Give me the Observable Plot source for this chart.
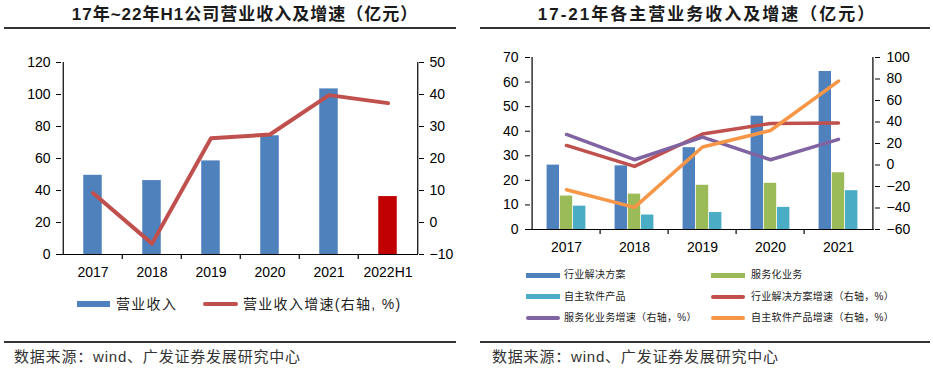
<!DOCTYPE html>
<html><head><meta charset="utf-8">
<script src="https://cdn.jsdelivr.net/npm/d3@7"></script>
<script src="https://cdn.jsdelivr.net/npm/@observablehq/plot@0.6"></script>
<style>
body{margin:0;background:#fff;}
#page{position:relative;width:933px;height:369px;overflow:hidden;font-family:"Liberation Sans","Noto Sans CJK SC",sans-serif;color:#000;}
.abs{position:absolute;}
.title{font-weight:bold;font-size:17px;line-height:20px;text-align:center;color:#1a1a1a;white-space:nowrap;font-family:"Liberation Sans","Noto Sans CJK SC",sans-serif;}
.rule{background:#333;}
.src{font-size:15px;line-height:18px;color:#333;white-space:nowrap;letter-spacing:0.8px;}
.lg{white-space:nowrap;color:#222;}
.lg1{font-size:14px;line-height:16px;letter-spacing:1.3px;}
.lg2{font-size:10px;line-height:12px;letter-spacing:0.3px;}
.sw{position:absolute;}
</style></head>
<body><div id="page">
<div class="abs title" style="left:0;top:5px;width:490px;letter-spacing:1px;">17年~22年H1公司营业收入及增速（亿元）</div>
<div class="abs title" style="left:470px;top:5px;width:474px;letter-spacing:2px;">17-21年各主营业务收入及增速（亿元）</div>
<div class="abs rule" style="left:4px;top:27px;width:452px;height:2px;"></div>
<div class="abs rule" style="left:480px;top:27px;width:450px;height:2px;"></div>
<div id="c1" class="abs" style="left:0;top:45px;"></div>
<div id="c2" class="abs" style="left:470px;top:40px;"></div>
<div id="lg1"></div>
<div id="lg2"></div>
<div class="abs rule" style="left:4px;top:341px;width:452px;height:1.5px;"></div>
<div class="abs rule" style="left:480px;top:341px;width:450px;height:1.5px;"></div>
<div class="abs src" style="left:14px;top:348px;">数据来源：wind、广发证券发展研究中心</div>
<div class="abs src" style="left:492px;top:348px;">数据来源：wind、广发证券发展研究中心</div>
</div>
<script>
// ---- Left chart data ----
const years = ["2017","2018","2019","2020","2021","2022H1"];
const revenue = [49.5, 46.2, 58.5, 74.2, 103.5, 36.2];
const revenueGrowth = [9.2, -6.6, 26.3, 27.5, 39.8, 37.3];
const leftTicks1 = [0, 20, 40, 60, 80, 100, 120];
const rightTicks1 = [-10, 0, 10, 20, 30, 40, 50];
const legend1 = ["营业收入", "营业收入增速(右轴, %)"];

// ---- Right chart data ----
const years2 = ["2017","2018","2019","2020","2021"];
const solutions = [26.2, 25.9, 33.3, 46.1, 64.3];
const services = [13.6, 14.4, 18.0, 18.8, 23.1];
const software = [9.5, 5.9, 6.9, 9.0, 15.8];
const solutionsGrowth = [18.2, -1.3, 28.8, 38.6, 39.0];
const servicesGrowth = [28.4, 4.9, 26.0, 4.9, 23.8];
const softwareGrowth = [-23.0, -39.4, 16.7, 32.1, 78.0];
const leftTicks2 = [0, 10, 20, 30, 40, 50, 60, 70];
const rightTicks2 = [-60, -40, -20, 0, 20, 40, 60, 80, 100];
const legend2 = ["行业解决方案", "服务化业务", "自主软件产品", "行业解决方案增速（右轴，%）", "服务化业务增速（右轴，%）", "自主软件产品增速（右轴，%）"];

const fmt = d => d < 0 ? "\u2212" + Math.abs(d) : String(d);
const style = {fontSize: "14px", fontFamily: '"Liberation Sans", Arial, sans-serif', color: "#000", background: "transparent", overflow: "visible"};

// ---- Left chart ----
{
  const W = 470, H = 235, ml = 61, mr = 52, mt = 17, mb = 26;
  const bw = (W - ml - mr) / years.length;
  const barW = 19;
  const lo = rightTicks1[0], hi = rightTicks1[rightTicks1.length - 1];
  const lmax = leftTicks1[leftTicks1.length - 1];
  const toL = v => (v - lo) / (hi - lo) * lmax;
  const fromL = y => Math.round(y / lmax * (hi - lo) + lo);
  const data = years.map((y, i) => ({year: y, rev: revenue[i], g: revenueGrowth[i]}));
  const chart = Plot.plot({
    width: W, height: H, marginLeft: ml, marginRight: mr, marginTop: mt, marginBottom: mb,
    style,
    x: {domain: years, padding: 0, label: null},
    y: {domain: [0, lmax], label: null},
    marks: [
      Plot.barY(data, {x: "year", y: "rev", fill: d => d.year.endsWith("H1") ? "#C00000" : "#4F81BD",
        insetLeft: (bw - barW) / 2, insetRight: (bw - barW) / 2}),
      Plot.line(data, {x: "year", y: d => toL(d.g), stroke: "#C0504D", strokeWidth: 4}),
      Plot.ruleY([0], {stroke: "#000", strokeWidth: 1.2}),
      Plot.ruleX([years[0]], {dx: -bw / 2, stroke: "#000", strokeWidth: 1.2}),
      Plot.ruleX([years[years.length - 1]], {dx: bw / 2, stroke: "#000", strokeWidth: 1.2}),
      Plot.ruleX(years.slice(1), {x: d => d, y1: 0, y2: 0, dx: -bw / 2, insetBottom: -5, stroke: "#000", strokeWidth: 1.2}),
      Plot.axisX({tickSize: 0, tickPadding: 13, label: null}),
      Plot.axisY(leftTicks1, {anchor: "left", tickSize: 5, tickPadding: 6, label: null}),
      Plot.axisY(rightTicks1.map(toL), {anchor: "right", tickSize: 5, tickPadding: 6, label: null, tickFormat: d => fmt(fromL(d))})
    ]
  });
  document.getElementById("c1").appendChild(chart);
}

// ---- Right chart ----
{
  const W = 463, H = 215, ml = 60, mr = 59, mt = 17, mb = 26;
  const n = years2.length;
  const bw = (W - ml - mr) / n;
  const barW = 13.2;
  const lo = rightTicks2[0], hi = rightTicks2[rightTicks2.length - 1];
  const lmax = leftTicks2[leftTicks2.length - 1];
  const toL = v => (v - lo) / (hi - lo) * lmax;
  const fromL = y => Math.round(y / lmax * (hi - lo) + lo);
  const data = years2.map((y, i) => ({year: y, a: solutions[i], b: services[i], c: software[i],
    ga: solutionsGrowth[i], gb: servicesGrowth[i], gc: softwareGrowth[i]}));
  const side = (bw - 3 * barW) / 2;
  const bar = (key, k, color) => Plot.barY(data, {x: "year", y: key, fill: color,
    insetLeft: side + k * barW, insetRight: side + (2 - k) * barW});
  const chart = Plot.plot({
    width: W, height: H, marginLeft: ml, marginRight: mr, marginTop: mt, marginBottom: mb,
    style,
    x: {domain: years2, padding: 0, label: null},
    y: {domain: [0, lmax], label: null},
    marks: [
      bar("a", 0, "#4F81BD"),
      bar("b", 1, "#9BBB59"),
      bar("c", 2, "#4BACC6"),
      Plot.line(data, {x: "year", y: d => toL(d.ga), stroke: "#C0504D", strokeWidth: 3.5}),
      Plot.line(data, {x: "year", y: d => toL(d.gb), stroke: "#8064A2", strokeWidth: 3.5}),
      Plot.line(data, {x: "year", y: d => toL(d.gc), stroke: "#F79646", strokeWidth: 3.5}),
      Plot.ruleY([0], {stroke: "#000", strokeWidth: 1.2}),
      Plot.ruleX([years2[0]], {dx: -bw / 2, stroke: "#000", strokeWidth: 1.2}),
      Plot.ruleX([years2[n - 1]], {dx: bw / 2, stroke: "#000", strokeWidth: 1.2}),
      Plot.ruleX(years2.slice(1), {x: d => d, y1: 0, y2: 0, dx: -bw / 2, insetBottom: -5, stroke: "#000", strokeWidth: 1.2}),
      Plot.axisX({tickSize: 0, tickPadding: 13, label: null}),
      Plot.axisY(leftTicks2, {anchor: "left", tickSize: 5, tickPadding: 7, label: null}),
      Plot.axisY(rightTicks2.map(toL), {anchor: "right", tickSize: 5, tickPadding: 7, label: null, tickFormat: d => fmt(fromL(d))})
    ]
  });
  document.getElementById("c2").appendChild(chart);
}

// ---- Legends ----
{
  const page = document.getElementById("lg1");
  const items = [
    {label: legend1[0], color: "#4F81BD", sx: 77, sw: 33, sh: 6, tx: 116, round: false},
    {label: legend1[1], color: "#C0504D", sx: 203, sw: 35, sh: 4, tx: 243, round: true}
  ];
  const cy = 304;
  for (const it of items) {
    const s = document.createElement("div");
    s.className = "sw";
    Object.assign(s.style, {left: it.sx + "px", top: (cy - it.sh / 2) + "px", width: it.sw + "px", height: it.sh + "px", background: it.color, borderRadius: it.round ? "2px" : "0"});
    page.appendChild(s);
    const t = document.createElement("div");
    t.className = "abs lg lg1";
    Object.assign(t.style, {left: it.tx + "px", top: (cy - 8) + "px"});
    t.textContent = it.label;
    page.appendChild(t);
  }
}
{
  const page = document.getElementById("lg2");
  const colors = ["#4F81BD", "#9BBB59", "#4BACC6", "#C0504D", "#8064A2", "#F79646"];
  const rowsY = [275, 296.5, 318];
  const colsX = [[526, 564], [711, 751]];
  legend2.forEach((label, i) => {
    const r = Math.floor(i / 2), c = i % 2;
    const cy = rowsY[r];
    const [sx, tx] = colsX[c];
    const sh = i < 3 ? 5 : 4;
    const s = document.createElement("div");
    s.className = "sw";
    Object.assign(s.style, {left: sx + "px", top: (cy - sh / 2) + "px", width: "34px", height: sh + "px", background: colors[i], borderRadius: i < 3 ? "0" : "2px"});
    page.appendChild(s);
    const t = document.createElement("div");
    t.className = "abs lg lg2";
    Object.assign(t.style, {left: tx + "px", top: (cy - 6) + "px"});
    t.textContent = label;
    page.appendChild(t);
  });
}
</script>
</body></html>
